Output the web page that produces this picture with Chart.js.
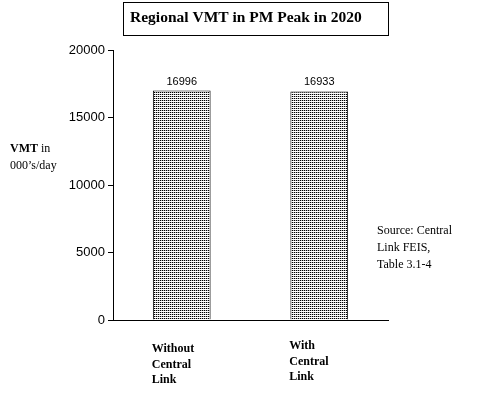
<!DOCTYPE html>
<html><head><meta charset="utf-8">
<script src="https://cdn.jsdelivr.net/npm/chart.js@4/dist/chart.umd.min.js"></script>
<style>html,body{margin:0;padding:0;background:#fff}#wrap{width:477px;height:399px}</style>
</head><body><div id="wrap"><canvas id="c" width="477" height="399"></canvas></div>
<script>
const categories = [["Without","Central","Link"],["With","Central","Link"]];
const vmtValues = [16996, 16933];
const yTicks = [0, 5000, 10000, 15000, 20000];
const titleText = "Regional VMT in PM Peak in 2020";
const sourceLines = ["Source: Central","Link FEIS,","Table 3.1-4"];

function makePattern(){
  const p = document.createElement('canvas');
  p.width = 2; p.height = 2;
  const g = p.getContext('2d');
  g.fillStyle = '#fff'; g.fillRect(0,0,2,2);
  g.fillStyle = '#000'; g.fillRect(0,0,1,1);
  g.fillStyle = '#bbb'; g.fillRect(1,0,1,1);
  return document.getElementById('c').getContext('2d').createPattern(p,'repeat');
}

const extras = {
  id:'extras',
  afterDraw(chart){
    const ctx = chart.ctx;
    const xs = chart.scales.x;
    ctx.save();
    ctx.strokeStyle='#000'; ctx.lineWidth=1;
    ctx.strokeRect(123.5,2.5,265,33);
    ctx.fillStyle='#000';
    ctx.font='bold 15.5px "Liberation Serif"';
    ctx.textBaseline='middle'; ctx.textAlign='left';
    ctx.fillText(titleText,130,18);
    ctx.font='bold 12px "Liberation Serif"';
    ctx.textBaseline='alphabetic';
    ctx.fillText('VMT',10,152);
    const w = ctx.measureText('VMT').width;
    ctx.font='12px "Liberation Serif"';
    ctx.fillText(' in',10+w,152);
    ctx.fillText("000\u2019s/day",10,169);
    sourceLines.forEach((s,i)=>ctx.fillText(s,377,234+i*17));
    ctx.font='11px "Liberation Sans"';
    ctx.textAlign='center';
    const meta = chart.getDatasetMeta(0);
    meta.data.forEach((b,i)=>{
      ctx.fillText(String(vmtValues[i]), b.x, b.y-6);
    });
    ctx.font='bold 12px "Liberation Serif"';
    ctx.textAlign='left';
    const tops=[352,349];
    categories.forEach((lines,i)=>{
      const cx = xs.getPixelForValue(i);
      lines.forEach((l,j)=>ctx.fillText(l, cx-30, tops[i]+j*15.5));
    });
    ctx.restore();
  }
};

new Chart(document.getElementById('c'),{
  type:'bar',
  data:{labels:categories.map(c=>c.join(' ')),datasets:[{data:vmtValues,backgroundColor:makePattern(),borderColor:'#000',borderWidth:1,barPercentage:0.42,categoryPercentage:1}]},
  options:{
    responsive:false,animation:false,devicePixelRatio:1,
    layout:{padding:{top:50,right:89,left:0,bottom:0}},
    plugins:{legend:{display:false},tooltip:{enabled:false},title:{display:false}},
    scales:{
      x:{grid:{display:false},border:{display:true,color:'#000',width:1},ticks:{display:false},
         afterFit(s){s.height=79;}},
      y:{min:0,max:20000,afterBuildTicks(s){s.ticks=yTicks.map(v=>({value:v}));},
         grid:{drawOnChartArea:false,tickLength:5,color:'#000',tickColor:'#000'},
         border:{display:true,color:'#000',width:1},
         ticks:{color:'#000',font:{family:'Liberation Sans',size:13},padding:3,callback:v=>String(v)},
         afterFit(s){s.width=113;}}
    }
  },
  plugins:[extras]
});
</script></body></html>
